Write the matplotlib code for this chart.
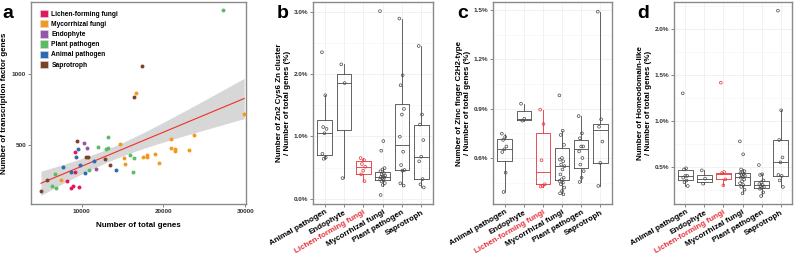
import numpy as np
import matplotlib
matplotlib.use("Agg")
import matplotlib.pyplot as plt
from matplotlib.patches import Patch
from matplotlib.ticker import FuncFormatter, MultipleLocator

plt.rcParams['font.family'] = ['Liberation Sans', 'DejaVu Sans']
plt.rcParams['font.weight'] = 'bold'

# ---------------- panel a: scatter data ----------------
groups = ['Lichen-forming fungi', 'Mycorrhizal fungi', 'Endophyte',
          'Plant pathogen', 'Animal pathogen', 'Saprotroph']
group_colors = ['#E4195A', '#F39A1E', '#9257A8', '#5DBB65', '#2C6AB1', '#7B4428']

lichen_x = [9143, 9224, 8204, 8898, 8694, 9673]
lichen_y = [448, 310, 246, 211, 195, 207]
myco_x = [29878, 23755, 20980, 14694, 21469, 21469, 23143, 20939, 16694, 18939,
          18041, 17959, 17510, 15184, 15347, 19510, 7429]
myco_y = [718, 570, 542, 507, 474, 458, 467, 477, 866, 439,
          427, 413, 413, 406, 369, 373, 254]
endo_x = [10327, 10612, 11714]
endo_y = [516, 481, 329]
plant_x = [27347, 13265, 13224, 12939, 11959, 15918, 16408, 16286, 10898, 6694, 6408, 6816]
plant_y = [1451, 559, 481, 469, 488, 432, 408, 312, 326, 293, 214, 195]
animal_x = [9551, 9265, 11469, 7714, 9837, 8694, 10367, 14163]
animal_y = [472, 413, 385, 343, 359, 312, 303, 322]
sapro_x = [9469, 10531, 10735, 12857, 13510, 5755, 5020, 17429, 16449]
sapro_y = [528, 413, 413, 404, 359, 254, 178, 1054, 840]

scatter_x = [lichen_x, myco_x, endo_x, plant_x, animal_x, sapro_x]
scatter_y = [lichen_y, myco_y, endo_y, plant_y, animal_y, sapro_y]

# ---------------- panels b-d: box data ----------------
box_cats = ['Animal pathogen', 'Endophyte', 'Lichen-forming fungi',
            'Mycorrhizal fungi', 'Plant pathogen', 'Saprotroph']

# stats per category: q1, median, q3, whisker low, whisker high
zn_stats = [(0.70, 1.06, 1.26, 0.64, 1.66), (1.10, 1.856, 2.00, 0.33, 2.155),
            (0.396, 0.513, 0.60, 0.28, 0.652), (0.294, 0.353, 0.433, 0.21, 0.49),
            (0.455, 0.861, 1.524, 0.21, 2.89), (0.31, 0.674, 1.19, 0.18, 2.45)]
zn_points = [[2.35, 1.66, 1.15, 1.12, 1.05, 0.72, 0.66, 0.64],
             [2.155, 1.856, 0.33],
             [0.652, 0.62, 0.556, 0.513, 0.45, 0.39, 0.28],
             [3.01, 0.925, 0.77, 0.49, 0.47, 0.44, 0.41, 0.39, 0.37, 0.36, 0.35,
              0.34, 0.33, 0.31, 0.30, 0.28, 0.25, 0.22, 0.06],
             [2.89, 1.98, 1.82, 1.44, 1.35, 0.995, 0.754, 0.54, 0.46, 0.45, 0.246, 0.21],
             [2.45, 1.35, 1.19, 0.94, 0.674, 0.60, 0.315, 0.23, 0.18]]

c2h2_stats = [(0.582, 0.653, 0.7135, 0.393, 0.748), (0.833, 0.839, 0.885, 0.827, 0.93),
              (0.44, 0.513, 0.754, 0.426, 0.894), (0.466, 0.551, 0.659, 0.379, 0.766),
              (0.539, 0.653, 0.707, 0.454, 0.855), (0.568, 0.77, 0.809, 0.43, 1.49)]
c2h2_points = [[0.748, 0.728, 0.71, 0.67, 0.653, 0.636, 0.511, 0.393],
               [0.93, 0.839, 0.827],
               [0.894, 0.807, 0.586, 0.44, 0.43, 0.426],
               [0.981, 0.766, 0.74, 0.68, 0.60, 0.59, 0.58, 0.56, 0.55, 0.53, 0.50,
                0.48, 0.47, 0.46, 0.45, 0.44, 0.42, 0.40, 0.385, 0.379],
               [0.855, 0.75, 0.72, 0.67, 0.67, 0.64, 0.60, 0.56, 0.52, 0.48, 0.454],
               [1.49, 0.835, 0.79, 0.70, 0.57, 0.43]]

homeo_stats = [(0.351, 0.402, 0.46, 0.29, 0.482), (0.333, 0.37, 0.413, 0.315, 0.46),
               (0.366, 0.424, 0.435, 0.297, 0.442), (0.304, 0.391, 0.431, 0.21, 0.47),
               (0.264, 0.30, 0.34, 0.18, 0.417), (0.399, 0.547, 0.793, 0.279, 1.112)]
homeo_points = [[1.297, 0.482, 0.47, 0.40, 0.40, 0.38, 0.35, 0.33, 0.29],
                [0.46, 0.37, 0.315],
                [1.413, 0.442, 0.43, 0.362, 0.297],
                [0.775, 0.634, 0.47, 0.45, 0.44, 0.43, 0.42, 0.41, 0.40, 0.39, 0.38,
                 0.36, 0.34, 0.32, 0.30, 0.28, 0.25, 0.21],
                [0.518, 0.417, 0.41, 0.35, 0.33, 0.31, 0.30, 0.29, 0.28, 0.27, 0.26, 0.22, 0.18],
                [2.196, 1.112, 0.79, 0.60, 0.547, 0.41, 0.40, 0.35, 0.279]]

FRAME = '#8a8a8a'
GRID = '#ebebeb'
LICHEN_RED = '#E5323A'
TICK_FS = 4.6
LABEL_FS = 5.8


def style_frame(ax):
    for s in ax.spines.values():
        s.set_color(FRAME)
        s.set_linewidth(1.0)
    ax.tick_params(length=2, width=0.5, color='#555555', labelsize=TICK_FS,
                   labelcolor='#333333', pad=1.5)


def plot_scatter(ax):
    allx, ally = [], []
    for xs, ys, col in zip(scatter_x, scatter_y, group_colors):
        ax.scatter(xs, ys, s=8, color=col, linewidths=0, zorder=3)
        allx += xs
        ally += ys
    allx = np.array(allx, float)
    ally = np.array(ally, float)

    # linear fit with 95% confidence band
    b1, b0 = np.polyfit(allx, ally, 1)
    n = len(allx)
    resid = ally - (b0 + b1 * allx)
    s = np.sqrt(np.sum(resid ** 2) / (n - 2))
    xx = np.linspace(allx.min(), allx.max(), 100)
    se = s * np.sqrt(1 / n + (xx - allx.mean()) ** 2 / np.sum((allx - allx.mean()) ** 2))
    yy = b0 + b1 * xx
    ax.fill_between(xx, yy - 2.0 * se, yy + 2.0 * se, color='#bdbdbd', alpha=0.6,
                    linewidth=0, zorder=1)
    ax.plot(xx, yy, color='#F0302A', linewidth=0.8, zorder=2)

    ax.set_xlim(3800, 30100)
    ax.set_ylim(85, 1507)
    ax.set_xticks([10000, 20000, 30000])
    ax.set_yticks([500, 1000])
    style_frame(ax)
    ax.set_xlabel('Number of total genes', fontsize=LABEL_FS, fontweight='bold', labelpad=6)
    ax.set_ylabel('Number of transcription factor genes', fontsize=LABEL_FS,
                  fontweight='bold', labelpad=3)

    handles = [Patch(facecolor=c, edgecolor='#dddddd', linewidth=0.4) for c in group_colors]
    ax.legend(handles, groups, loc='upper left', bbox_to_anchor=(9 / 215, 1 - 8 / 202),
              frameon=False, fontsize=4.8, handlelength=1.2, handleheight=1.3,
              labelspacing=0.34, handletextpad=0.5, borderaxespad=0, borderpad=0)


def plot_box(ax, stats, points, ylim, major, minor, ylabel):
    pos = np.arange(1, len(box_cats) + 1)
    for i, (st, pts) in enumerate(zip(stats, points)):
        col = LICHEN_RED if box_cats[i] == 'Lichen-forming fungi' else '#4a4a4a'
        q1, med, q3, lo, hi = st
        d = dict(q1=q1, med=med, q3=q3, whislo=lo, whishi=hi, fliers=[])
        ax.bxp([d], positions=[pos[i]], widths=0.75, showcaps=False, showfliers=False,
               boxprops=dict(color=col, linewidth=0.6),
               whiskerprops=dict(color=col, linewidth=0.6),
               medianprops=dict(color=col, linewidth=0.6))
        n = len(pts)
        off = ((np.arange(n) * 0.618) % 1 - 0.5) * 0.28
        ax.scatter(pos[i] + off, pts, s=4, facecolors='none', edgecolors=col,
                   linewidths=0.5, zorder=4)

    ax.set_xlim(0.4, 6.6)
    ax.set_ylim(*ylim)
    style_frame(ax)
    ax.set_xticks(pos)
    ax.set_xticklabels(box_cats, rotation=30, ha='right', va='top',
                       rotation_mode='anchor', fontsize=LABEL_FS, fontweight='bold')
    for lab in ax.get_xticklabels():
        if lab.get_text() == 'Lichen-forming fungi':
            lab.set_color(LICHEN_RED)
        else:
            lab.set_color('black')
    ax.yaxis.set_major_locator(MultipleLocator(major))
    ax.yaxis.set_minor_locator(MultipleLocator(minor))
    ax.yaxis.set_major_formatter(FuncFormatter(lambda v, p: f'{v:.1f}%'))
    ax.grid(True, which='major', color=GRID, linewidth=0.5)
    ax.grid(True, which='minor', axis='y', color='#f3f3f3', linewidth=0.4)
    ax.tick_params(axis='y', which='minor', length=0)
    ax.set_axisbelow(True)
    ax.set_ylabel(ylabel, fontsize=LABEL_FS, fontweight='bold', labelpad=2,
                  linespacing=1.1)


fig = plt.figure(figsize=(7.94, 2.58), dpi=100)
W, H = 794, 258


def add_axes(x0, x1, y0=2, y1=204):
    return fig.add_axes([x0 / W, 1 - y1 / H, (x1 - x0) / W, (y1 - y0) / H])


ax_a = add_axes(31, 246)
ax_b = add_axes(313, 433)
ax_c = add_axes(493, 612)
ax_d = add_axes(674, 792)

plot_scatter(ax_a)
plot_box(ax_b, zn_stats, zn_points, (-0.085, 3.156), 1.0, 0.5,
         'Number of Zn2 Cys6 Zn cluster\n/ Number of total genes (%)')
plot_box(ax_c, c2h2_stats, c2h2_points, (0.32, 1.549), 0.3, 0.15,
         'Number of Zinc finger C2H2-type\n/ Number of total genes (%)')
plot_box(ax_d, homeo_stats, homeo_points, (0.094, 2.29), 0.5, 0.25,
         'Number of Homeodomain-like\n/ Number of total genes (%)')

for letter, xpx in zip('abcd', [2, 277, 457, 637]):
    fig.text(xpx / W, 1 - 18.5 / H, letter, fontsize=14, fontweight='bold',
             va='baseline', ha='left')

fig.savefig('out.png', dpi=100)
